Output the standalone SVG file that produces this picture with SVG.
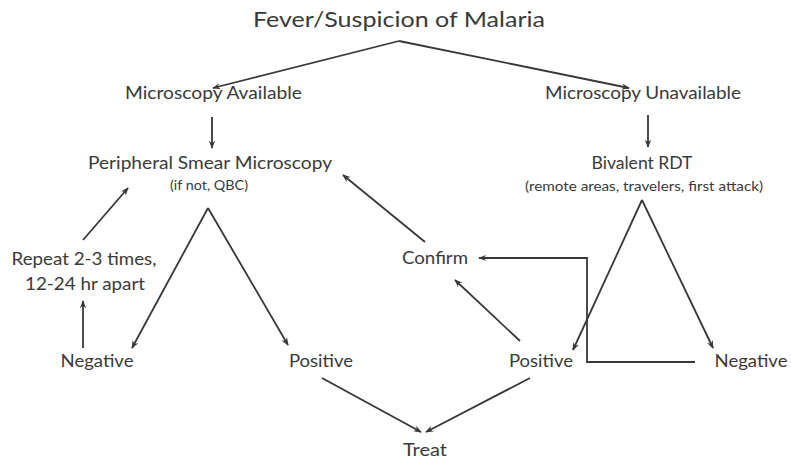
<svg xmlns="http://www.w3.org/2000/svg" width="791" height="462" viewBox="0 0 791 462">
<defs>
<marker id="ah" viewBox="0 0 10 10" refX="9" refY="5" markerWidth="8" markerHeight="8" orient="auto" markerUnits="userSpaceOnUse">
<path d="M0,1 L10,5 L0,9 L3,5 Z" fill="#383838"/>
</marker>
<style>
text{font-family:Lato,"Open Sans","Liberation Sans",sans-serif;fill:#3a3a3a;text-anchor:middle}
.t{font-size:22px}
.n{font-size:17px}
.s{font-size:12.5px}
.c line,.c polyline{stroke:#383838;stroke-width:1.8;fill:none}
.a{marker-end:url(#ah)}
</style>
</defs>
<rect width="791" height="462" fill="#fff"/>
<g class="c" id="connectors">
<polyline class="a" points="399,41 213,88"/>
<polyline class="a" points="399,41 629,88"/>
<line class="a" x1="212" y1="117" x2="212" y2="148"/>
<line class="a" x1="648" y1="115" x2="648" y2="147"/>
<line class="a" x1="208" y1="208" x2="132" y2="348"/>
<line class="a" x1="208" y1="208" x2="288" y2="345"/>
<line class="a" x1="83" y1="348" x2="83" y2="301"/>
<line class="a" x1="83" y1="240" x2="128" y2="188"/>
<line class="a" x1="425" y1="242" x2="343" y2="175"/>
<line class="a" x1="520" y1="341" x2="455" y2="280"/>
<polyline class="a" points="695,362 587,362 587,258 479,258"/>
<line class="a" x1="642" y1="200" x2="573" y2="350"/>
<line class="a" x1="642" y1="200" x2="713" y2="348"/>
<line class="a" x1="322" y1="378" x2="421" y2="432"/>
<line class="a" x1="530" y1="378" x2="426" y2="432"/>
</g>
<g id="fever"><text class="t" x="399" y="27" textLength="292" lengthAdjust="spacingAndGlyphs">Fever/Suspicion of Malaria</text></g>
<g id="micro-avail"><text class="n" x="213.5" y="99" textLength="177" lengthAdjust="spacingAndGlyphs">Microscopy Available</text></g>
<g id="micro-unavail"><text class="n" x="643" y="99" textLength="196" lengthAdjust="spacingAndGlyphs">Microscopy Unavailable</text></g>
<g id="smear"><text class="n" x="210" y="169" textLength="244" lengthAdjust="spacingAndGlyphs">Peripheral Smear Microscopy</text><text class="s" x="209" y="190" textLength="78" lengthAdjust="spacingAndGlyphs">(if not, QBC)</text></g>
<g id="rdt"><text class="n" x="642" y="169" textLength="101" lengthAdjust="spacingAndGlyphs">Bivalent RDT</text><text class="s" x="644" y="191" textLength="238" lengthAdjust="spacingAndGlyphs">(remote areas, travelers, first attack)</text></g>
<g id="repeat"><text class="n" x="84" y="265" textLength="145" lengthAdjust="spacingAndGlyphs">Repeat 2-3 times,</text><text class="n" x="85" y="290" textLength="120" lengthAdjust="spacingAndGlyphs">12-24 hr apart</text></g>
<g id="confirm"><text class="n" x="435" y="264" textLength="66" lengthAdjust="spacingAndGlyphs">Confirm</text></g>
<g id="neg-left"><text class="n" x="97" y="367" textLength="73" lengthAdjust="spacingAndGlyphs">Negative</text></g>
<g id="pos-left"><text class="n" x="321" y="367" textLength="64" lengthAdjust="spacingAndGlyphs">Positive</text></g>
<g id="pos-right"><text class="n" x="541" y="367" textLength="64" lengthAdjust="spacingAndGlyphs">Positive</text></g>
<g id="neg-right"><text class="n" x="751" y="367" textLength="73" lengthAdjust="spacingAndGlyphs">Negative</text></g>
<g id="treat"><text class="n" x="425" y="456" textLength="44" lengthAdjust="spacingAndGlyphs">Treat</text></g>
</svg>
